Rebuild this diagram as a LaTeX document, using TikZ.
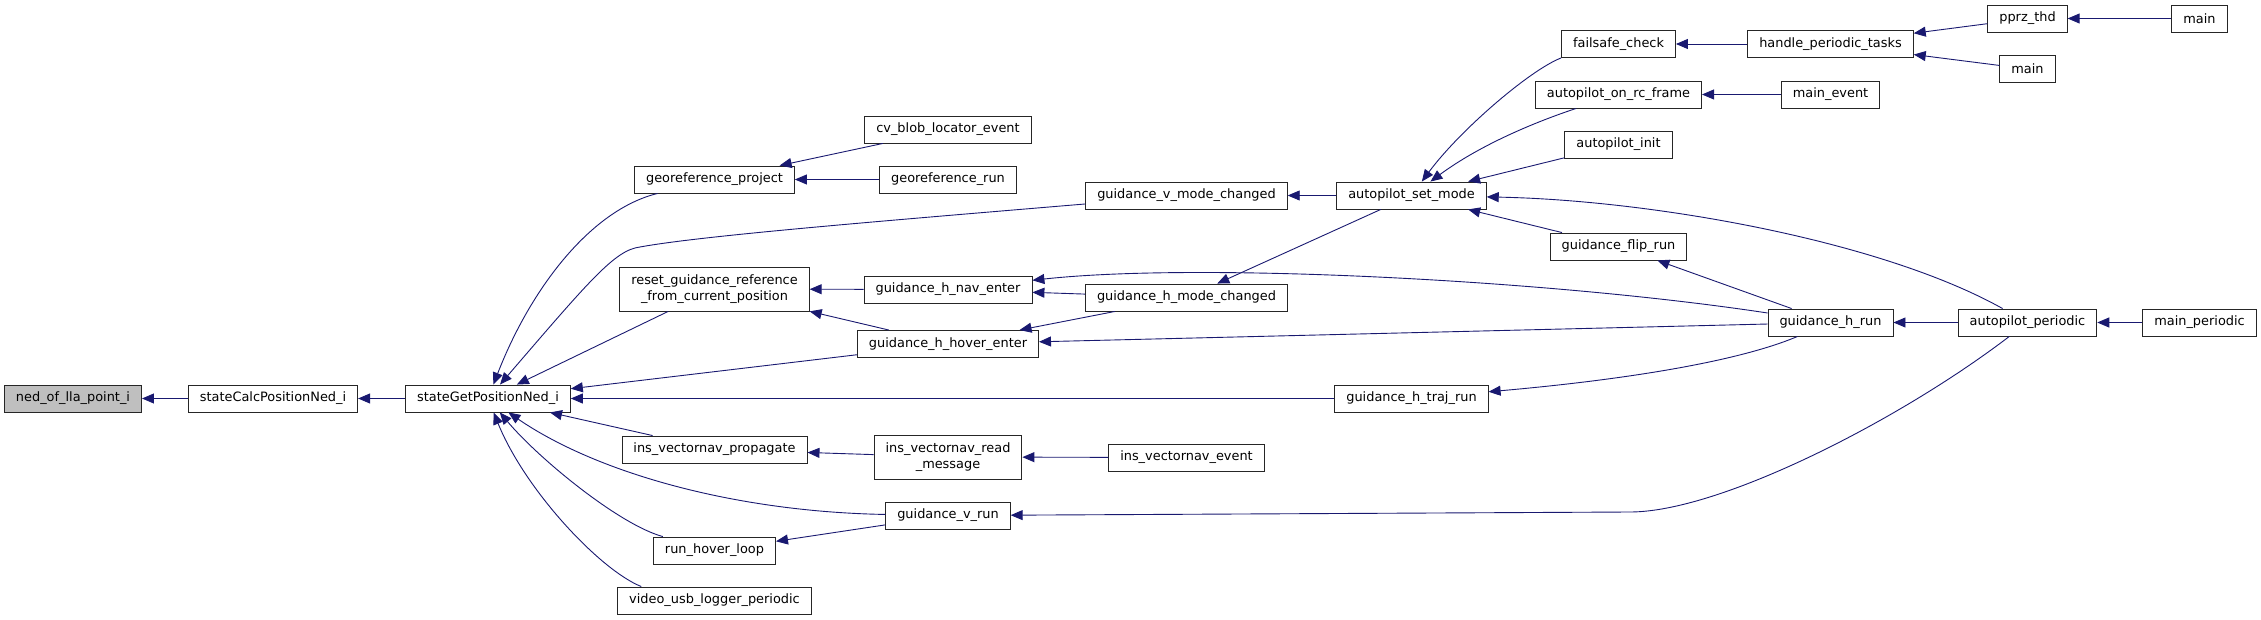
\documentclass[tikz,border=0pt]{standalone}
\usepackage{fontspec}
\setmainfont{DejaVu Sans}
\usepackage{tikz}
\usetikzlibrary{arrows.meta,positioning}

\definecolor{edgeblue}{HTML}{191970}

\begin{document}
\begin{tikzpicture}[
    x=1pt, y=-1pt,
    >={Triangle[length=12pt,width=10pt]},
    fn/.style={draw=black!85, line width=0.9pt, fill=white, minimum height=27pt, inner xsep=11.5pt, inner ysep=3pt, font=\fontsize{12.9}{16}\selectfont},
    fn2/.style={fn, minimum height=44pt, align=center},
    arr/.style={->, draw=edgeblue, line width=0.9pt}
]
    \useasboundingbox (0,0) rectangle (2261,620);
    \node[fn, fill=black!25] (ned) at (73,398.5) {ned\_of\_lla\_point\_i};
    \node[fn] (calc) at (273,398.5) {stateCalcPositionNed\_i};
    \node[fn] (getpos) at (488,398.5) {stateGetPositionNed\_i};
    \node[fn] (georef) at (714.5,179.5) {georeference\_project};
    \node[fn2] (reset) at (714.5,289) {reset\_guidance\_reference\\\_from\_current\_position};
    \node[fn] (propagate) at (714.5,449.5) {ins\_vectornav\_propagate};
    \node[fn] (hover) at (714.5,550.5) {run\_hover\_loop};
    \node[fn] (video) at (714.5,600.5) {video\_usb\_logger\_periodic};
    \node[fn] (blob) at (948,129.5) {cv\_blob\_locator\_event};
    \node[fn] (georun) at (948,179.5) {georeference\_run};
    \node[fn] (naventer) at (948,289.5) {guidance\_h\_nav\_enter};
    \node[fn] (hoverenter) at (948,344) {guidance\_h\_hover\_enter};
    \node[fn2] (readmsg) at (948,457) {ins\_vectornav\_read\\\_message};
    \node[fn] (vrun) at (948,515.5) {guidance\_v\_run};
    \node[fn] (vmode) at (1186.5,195.5) {guidance\_v\_mode\_changed};
    \node[fn] (hmode) at (1186.5,297.5) {guidance\_h\_mode\_changed};
    \node[fn] (vnevent) at (1186.5,457.5) {ins\_vectornav\_event};
    \node[fn] (setmode) at (1411.5,195.5) {autopilot\_set\_mode};
    \node[fn] (trajrun) at (1411.5,398.5) {guidance\_h\_traj\_run};
    \node[fn] (failsafe) at (1618.5,44) {failsafe\_check};
    \node[fn] (rcframe) at (1618.5,94.5) {autopilot\_on\_rc\_frame};
    \node[fn] (apinit) at (1618.5,144.5) {autopilot\_init};
    \node[fn] (fliprun) at (1618.5,246.5) {guidance\_flip\_run};
    \node[fn] (tasks) at (1830.5,44) {handle\_periodic\_tasks};
    \node[fn] (mainevent) at (1830.5,94.5) {main\_event};
    \node[fn] (hrun) at (1830.5,322.5) {guidance\_h\_run};
    \node[fn] (pprz) at (2027.5,18.5) {pprz\_thd};
    \node[fn] (mainb) at (2027.5,69) {main};
    \node[fn] (apperiodic) at (2027.5,322.5) {autopilot\_periodic};
    \node[fn] (maina) at (2199.5,18.5) {main};
    \node[fn] (mainperiodic) at (2199.5,322.5) {main\_periodic};
    \foreach \a/\b in {calc/ned, getpos/calc, reset/getpos, hoverenter/getpos, trajrun/getpos,
        propagate/getpos, blob/georef, georun/georef, naventer/reset, hoverenter/reset,
        readmsg/propagate, vnevent/readmsg, vrun/hover, setmode/vmode, hmode/naventer,
        hmode/hoverenter, hrun/hoverenter, setmode/hmode, apinit/setmode, fliprun/setmode,
        tasks/failsafe, pprz/tasks, mainb/tasks, maina/pprz, mainevent/rcframe,
        hrun/fliprun, apperiodic/hrun, mainperiodic/apperiodic} {
        \draw[arr] (\a) -- (\b);
    }
    \draw[arr] (georef) .. controls (590,210) and (530,290) .. (getpos);
    \draw[arr] (vmode) .. controls (870,222) and (700,236) .. (640,247) .. controls (615,250) and (590,280) .. (getpos);
    \draw[arr] (vrun) .. controls (740,512) and (600,475) .. (getpos);
    \draw[arr] (hover) .. controls (620,525) and (540,460) .. (getpos);
    \draw[arr] ([xshift=24pt]video.north west) .. controls (600,570) and (525,490) .. (getpos);
    \draw[arr] (hrun) .. controls (1550,280) and (1200,262) .. (naventer);
    \draw[arr] (failsafe.south west) .. controls (1530,70) and (1460,130) .. (setmode);
    \draw[arr] (rcframe) .. controls (1535,122) and (1480,145) .. (setmode);
    \draw[arr] (apperiodic) .. controls (1880,240) and (1650,200) .. (setmode);
    \draw[arr] (hrun) .. controls (1730,365) and (1600,382) .. (trajrun);
    \draw[arr] (apperiodic) .. controls (1900,420) and (1720,512) .. (1630,512) -- (vrun);
\end{tikzpicture}
\end{document}
